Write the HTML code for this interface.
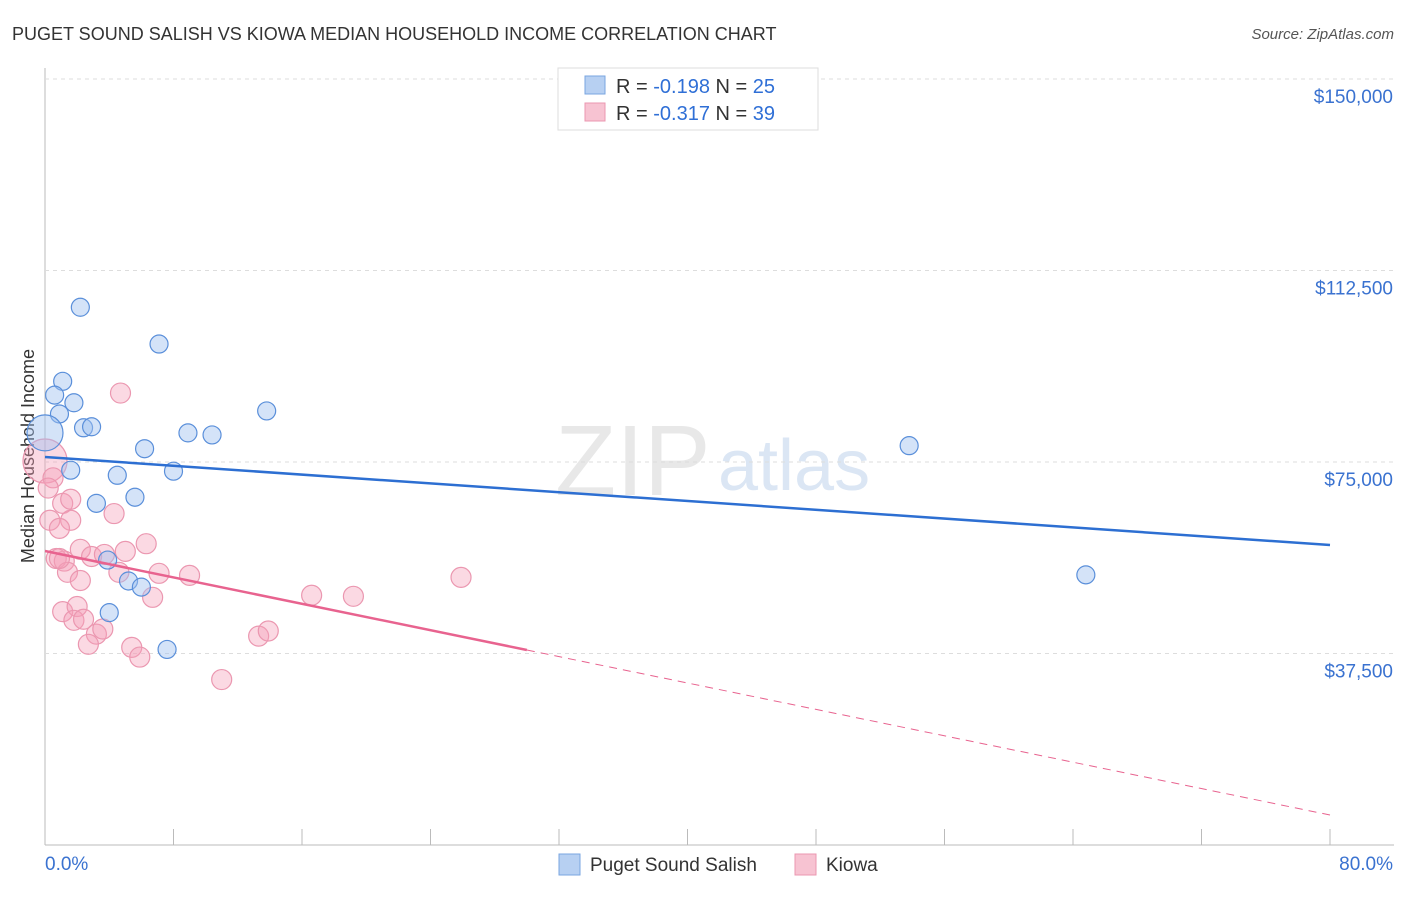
<!DOCTYPE html>
<html><head><meta charset="utf-8"><style>
body{margin:0;background:#fff;font-family:"Liberation Sans",sans-serif;}
svg text{font-family:"Liberation Sans",sans-serif;}
</style></head><body>
<svg id="chart" width="1406" height="892">
<text x="12" y="40" font-size="18" fill="#333">PUGET SOUND SALISH VS KIOWA MEDIAN HOUSEHOLD INCOME CORRELATION CHART</text>
<text x="1394" y="39" font-size="15" fill="#555" text-anchor="end" font-style="italic">Source: ZipAtlas.com</text>
<text x="555" y="495" font-size="100" fill="#e8e8e8" font-family="Liberation Serif">ZIP</text>
<text x="718" y="490" font-size="72" fill="#dbe6f4">atlas</text>
<text transform="translate(34,456) rotate(-90)" font-size="18" fill="#333" text-anchor="middle">Median Household Income</text>
<g id="grid"></g><g id="marks"></g>
<g>
<rect x="558" y="68" width="260" height="62" fill="#fff" stroke="#ddd"/>
<rect x="585" y="76" width="20" height="18" fill="#b7d0f2" stroke="#7aa6e0"/>
<text x="616" y="93" font-size="20" fill="#333">R = <tspan fill="#2f6fd6">-0.198</tspan>   N = <tspan fill="#2f6fd6">25</tspan></text>
<rect x="585" y="103" width="20" height="18" fill="#f7c3d2" stroke="#eb97b0"/>
<text x="616" y="120" font-size="20" fill="#333">R = <tspan fill="#2f6fd6">-0.317</tspan>   N = <tspan fill="#2f6fd6">39</tspan></text>
</g>
<g>
<rect x="559" y="854" width="21" height="21" fill="#b7d0f2" stroke="#7aa6e0"/>
<text x="590" y="871" font-size="19" fill="#333">Puget Sound Salish</text>
<rect x="795" y="854" width="21" height="21" fill="#f7c3d2" stroke="#eb97b0"/>
<text x="826" y="871" font-size="19" fill="#333">Kiowa</text>
</g>
</svg>
<script>
const yTicks=[37500,75000,112500,150000];
const yTickLabels=["$37,500","$75,000","$112,500","$150,000"];
const xTickLabels=["0.0%","80.0%"];
const blueX=[2.2,7.1,1.1,0.6,1.8,0.9,13.8,2.4,2.9,8.9,10.4,6.2,53.8,0.0,1.6,4.5,8.0,3.2,5.6,3.9,5.2,6.0,4.0,7.6,64.8];
const blueY=[105300,98100,90800,88100,86600,84400,85000,81700,81900,80700,80300,77600,78200,80700,73400,72400,73200,66900,68100,55800,51700,50500,45500,38300,52900];
const pinkX=[4.7,0.0,0.5,0.2,1.1,1.6,0.3,1.6,0.9,4.3,6.3,5.0,2.2,2.9,3.7,0.7,1.2,1.4,4.6,7.1,9.0,2.2,6.7,16.6,19.2,25.9,1.1,2.0,1.8,2.4,3.2,3.6,2.7,5.4,5.9,13.3,13.9,11.0,0.9];
const pinkY=[88500,75200,71900,69900,66900,67700,63600,63600,62000,64900,59000,57500,57900,56500,56900,56100,55600,53400,53400,53200,52800,51800,48500,48900,48700,52400,45700,46700,44000,44200,41300,42300,39300,38700,36800,40900,41900,32400,56100];
const blueTrend=[75979,58747];
const pinkTrend=[57572,5875];
const pinkSolidEnd=30;
const X=v=>45+v/80*1285, Y=v=>845-v/37500*191.5;
const ns="http://www.w3.org/2000/svg";
function mk(tag,attrs,parent){const e=document.createElementNS(ns,tag);for(const k in attrs)e.setAttribute(k,attrs[k]);parent.appendChild(e);return e;}
const grid=document.getElementById('grid'), marks=document.getElementById('marks');
let ax=mk('line',{x1:45,y1:68,x2:45,y2:845,stroke:'#bbb'},grid);


let bx=mk('line',{x1:45,y1:845,x2:1394,y2:845,stroke:'#bbb'},grid);


for(let i=0;i<=10;i++){let t=mk('line',{x1:X(i*8),x2:X(i*8),y1:829,y2:845,stroke:'#bbb'},grid);

}
yTicks.forEach((v,i)=>{let y=Y(v);if(v===150000)y=79;
let l=mk('line',{x1:45,x2:1394,y1:y,y2:y,stroke:'#ddd','stroke-dasharray':'4,4'},grid);


let t=mk('text',{x:1393,y:y+24,'font-size':19,fill:'#3a72d0','text-anchor':'end'},grid);t.textContent=yTickLabels[i];

});
xTickLabels.forEach((s,i)=>{let t=mk('text',{x:i?1393:45,y:870,'font-size':19,fill:'#3a72d0','text-anchor':i?'end':'start'},grid);t.textContent=s;

});
pinkX.forEach((v,i)=>{let r=(i===1)?22:10;let c=mk('circle',{cx:X(v),cy:Y(pinkY[i]),r:r,fill:'rgba(244,160,186,0.4)',stroke:'#eb97b0','stroke-width':1.2},marks);

});
blueX.forEach((v,i)=>{let r=(i===13)?18:9;let c=mk('circle',{cx:X(v),cy:Y(blueY[i]),r:r,fill:'rgba(160,194,240,0.45)',stroke:'#5a8fda','stroke-width':1.2},marks);

});
let bl=mk('line',{x1:X(0),y1:Y(blueTrend[0]),x2:X(80),y2:Y(blueTrend[1]),stroke:'#2d6fd2','stroke-width':2.5},marks);


const pAt=x=>pinkTrend[0]+(pinkTrend[1]-pinkTrend[0])*x/80;
let pl=mk('line',{x1:X(0),y1:Y(pinkTrend[0]),x2:X(pinkSolidEnd),y2:Y(pAt(pinkSolidEnd)),stroke:'#e8638f','stroke-width':2.5},marks);


let pd=mk('line',{x1:X(pinkSolidEnd),y1:Y(pAt(pinkSolidEnd)),x2:X(80),y2:Y(pinkTrend[1]),stroke:'#e8638f','stroke-width':1,'stroke-dasharray':'8,6'},marks);


</script>
</body></html>
